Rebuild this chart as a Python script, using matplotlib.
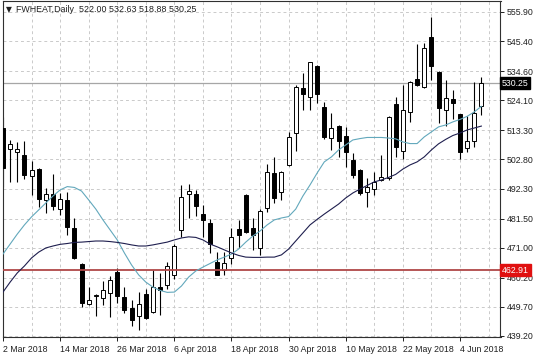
import matplotlib
matplotlib.use("Agg")
import matplotlib.pyplot as plt
import matplotlib.transforms as mtransforms

# ---------------- data ----------------
opens = [514.1, 506.4, 505.6, 504.4, 496.8, 499.2, 488.2, 490.3, 484.8, 488.2,
         478.0, 465.0, 450.7, 453.6, 452.9, 454.8, 462.1, 453.4, 449.3, 446.4,
         454.3, 447.8, 456.8, 457.6, 461.1, 477.4, 490.5, 490.5, 483.1, 480.0,
         465.8, 463.1, 467.3, 477.6, 490.0, 478.1, 471.0, 485.2, 498.0, 491.2,
         500.8, 512.2, 528.4, 525.3, 536.4, 521.5, 510.6, 515.0, 511.2, 502.6,
         499.0, 491.1, 492.1, 495.2, 496.0, 522.8, 506.0, 520.0, 531.6, 529.0,
         547.0, 534.4, 520.6, 524.5, 519.2, 506.8, 509.3, 522.00]
highs = [518.1, 509.8, 509.2, 509.4, 502.2, 499.6, 492.4, 497.5, 490.6, 491.2,
         481.6, 465.4, 457.0, 454.3, 459.0, 460.9, 463.7, 456.8, 452.0, 455.2,
         456.1, 462.9, 461.9, 465.8, 472.3, 493.6, 493.8, 491.6, 486.4, 481.5,
         469.4, 469.6, 478.1, 480.8, 490.3, 481.7, 484.9, 501.1, 503.8, 498.6,
         512.8, 529.6, 533.8, 538.0, 536.8, 523.6, 519.6, 515.1, 514.6, 505.0,
         499.2, 496.0, 498.4, 504.4, 518.4, 525.2, 529.6, 531.0, 544.4, 544.7,
         554.0, 534.6, 531.4, 527.8, 519.3, 518.4, 530.8, 532.63]
lows = [492.9, 494.8, 494.8, 495.7, 490.0, 485.8, 483.4, 484.6, 482.8, 475.6,
        466.8, 449.7, 450.4, 446.4, 450.4, 446.2, 451.0, 447.6, 442.8, 441.2,
        445.2, 447.6, 446.6, 456.1, 459.8, 474.9, 481.7, 482.4, 474.7, 469.0,
        461.1, 461.3, 465.1, 470.9, 476.3, 470.2, 468.4, 484.0, 487.0, 488.2,
        500.5, 505.9, 520.7, 520.6, 523.0, 510.0, 506.2, 503.8, 500.2, 496.2,
        490.0, 485.8, 490.0, 495.0, 495.4, 503.8, 503.0, 516.4, 529.2, 528.4,
        531.3, 515.9, 514.7, 517.4, 502.8, 505.6, 507.2, 518.88]
closes = [499.7, 508.3, 506.6, 497.2, 499.0, 488.4, 490.3, 486.0, 488.4, 478.6,
          467.2, 451.0, 452.2, 453.9, 455.6, 459.5, 453.6, 448.6, 444.8, 450.6,
          445.5, 457.0, 455.6, 464.4, 471.6, 489.3, 491.4, 486.0, 481.0, 472.5,
          461.3, 465.3, 474.7, 475.6, 476.5, 475.6, 484.2, 498.2, 488.8, 498.2,
          511.0, 528.8, 526.4, 537.8, 526.4, 511.0, 514.0, 509.3, 505.6, 497.2,
          490.6, 492.9, 494.5, 496.6, 518.2, 507.4, 520.6, 530.8, 529.6, 542.8,
          536.5, 521.4, 524.8, 523.0, 505.6, 509.3, 519.4, 530.25]

ma_fast = [468.7, 472.3, 475.9, 479.2, 482.1, 484.6, 487.1, 489.6, 491.8, 493.0,
           492.7, 491.4, 488.2, 484.9, 481.0, 477.4, 473.8, 469.1, 464.8, 461.2,
           458.6, 456.8, 455.6, 454.9, 455.0, 457.2, 460.4, 462.6, 464.0, 465.3,
           466.6, 467.6, 468.7, 470.5, 473.0, 475.2, 477.0, 479.2, 481.0, 481.7,
           482.2, 484.9, 489.6, 493.6, 497.9, 501.9, 503.7, 506.2, 508.0, 509.8,
           510.3, 510.7, 510.7, 510.7, 510.5, 510.2, 509.1, 508.5, 508.5, 510.9,
           512.7, 514.5, 515.2, 516.3, 517.2, 518.3, 519.9, 521.9]
ma_slow = [455.0, 458.6, 461.9, 464.4, 467.3, 469.4, 470.9, 471.6, 472.2, 472.5,
           472.9, 473.0, 473.2, 473.4, 473.4, 473.2, 472.9, 472.5, 472.0, 471.6,
           471.6, 472.0, 472.5, 473.0, 473.8, 474.5, 474.9, 474.7, 473.8, 472.3,
           471.3, 470.2, 469.1, 468.2, 467.6, 467.5, 467.5, 467.6, 467.6, 468.4,
           470.5, 473.4, 476.3, 479.2, 481.2, 483.1, 484.9, 486.7, 488.9, 490.7,
           492.1, 493.4, 494.7, 495.4, 496.3, 497.4, 499.3, 500.8, 501.9, 503.7,
           506.2, 508.4, 510.0, 511.4, 512.3, 513.4, 514.1, 514.8]

date_pos = [0, 8, 16, 24, 32, 40, 48, 56, 64]
date_labels = ["2 Mar 2018", "14 Mar 2018", "26 Mar 2018", "6 Apr 2018",
               "18 Apr 2018", "30 Apr 2018", "10 May 2018", "22 May 2018",
               "4 Jun 2018"]
price_ticks = [555.90, 545.40, 534.60, 524.10, 513.30, 502.80, 492.30,
               481.50, 471.00, 460.20, 449.70, 439.20]
last_price = 530.25
level_price = 462.91
header = "FWHEAT,Daily  522.00 532.63 518.88 530.25"

# ---------------- figure ----------------
plt.rcParams['font.family'] = ['Liberation Sans', 'DejaVu Sans']
W, H = 536, 357
fig = plt.figure(figsize=(W / 100, H / 100), dpi=100)
ax = fig.add_axes([2.5 / W, (H - 337) / H, (500.5 - 2.5) / W, (337 - 1) / H])
ax.set_xlim(-0.07, 69.68)
ax.set_ylim(438.82, 559.86)

grid_kw = dict(color='#cacaca', lw=0.7, ls=(0, (3, 3)), zorder=0)
for p in price_ticks:
    ax.axhline(p, **grid_kw)
for gx in range(4, 70, 4):
    ax.axvline(gx, **grid_kw)

n = len(opens)
xs = list(range(n))
ax.vlines(xs, lows, highs, color='black', lw=0.8, zorder=2)
bottoms = [min(o, c) for o, c in zip(opens, closes)]
heights = [max(abs(c - o), 0.35) for o, c in zip(opens, closes)]
faces = ['white' if c >= o else 'black' for o, c in zip(opens, closes)]
ax.bar(xs, heights, bottom=bottoms, width=0.56, color=faces,
       edgecolor='black', linewidth=0.7, zorder=3)

ax.axhline(last_price, color='#a6a6a6', lw=0.9, zorder=1)
ax.axhline(level_price, color='#b04848', lw=1.3, zorder=4)

ax.plot(xs, ma_fast, color='#62a8bc', lw=0.8, zorder=5)
ax.plot(xs, ma_slow, color='#1e1e4e', lw=0.8, zorder=5)

# axes styling
for s in ax.spines.values():
    s.set_color('#303030')
    s.set_linewidth(0.8)
ax.yaxis.tick_right()
ax.set_yticks(price_ticks)
ax.set_yticklabels([f"{p:.2f}" for p in price_ticks])
ax.tick_params(axis='y', length=3, width=0.7, pad=1.5, labelsize=6.3,
               colors='#202020')
ax.set_xticks(date_pos)
ax.set_xticklabels(date_labels, ha='left')
ax.tick_params(axis='x', length=3, width=0.7, pad=2.5, labelsize=6.3,
               colors='#202020')

trans = mtransforms.blended_transform_factory(ax.transAxes, ax.transData)
ax.text(1.003, last_price, f"{last_price:.2f}", transform=trans, ha='left',
        va='center', fontsize=6.3, color='white', zorder=10, clip_on=False,
        bbox=dict(boxstyle='square,pad=0.18', fc='black', ec='black'))
ax.text(1.003, level_price, f"{level_price:.2f}", transform=trans, ha='left',
        va='center', fontsize=6.3, color='white', zorder=10, clip_on=False,
        bbox=dict(boxstyle='square,pad=0.18', fc='#e01010', ec='#e01010'))

fig.text(5.5 / W, 1 - 9.5 / H, "\u25bc", fontsize=5.5, va='center', ha='left',
         family='DejaVu Sans', color='#202020')
fig.text(16 / W, 1 - 9.3 / H, header, fontsize=6.4, va='center', ha='left',
         color='#202020')

fig.savefig("out.png", dpi=100)
